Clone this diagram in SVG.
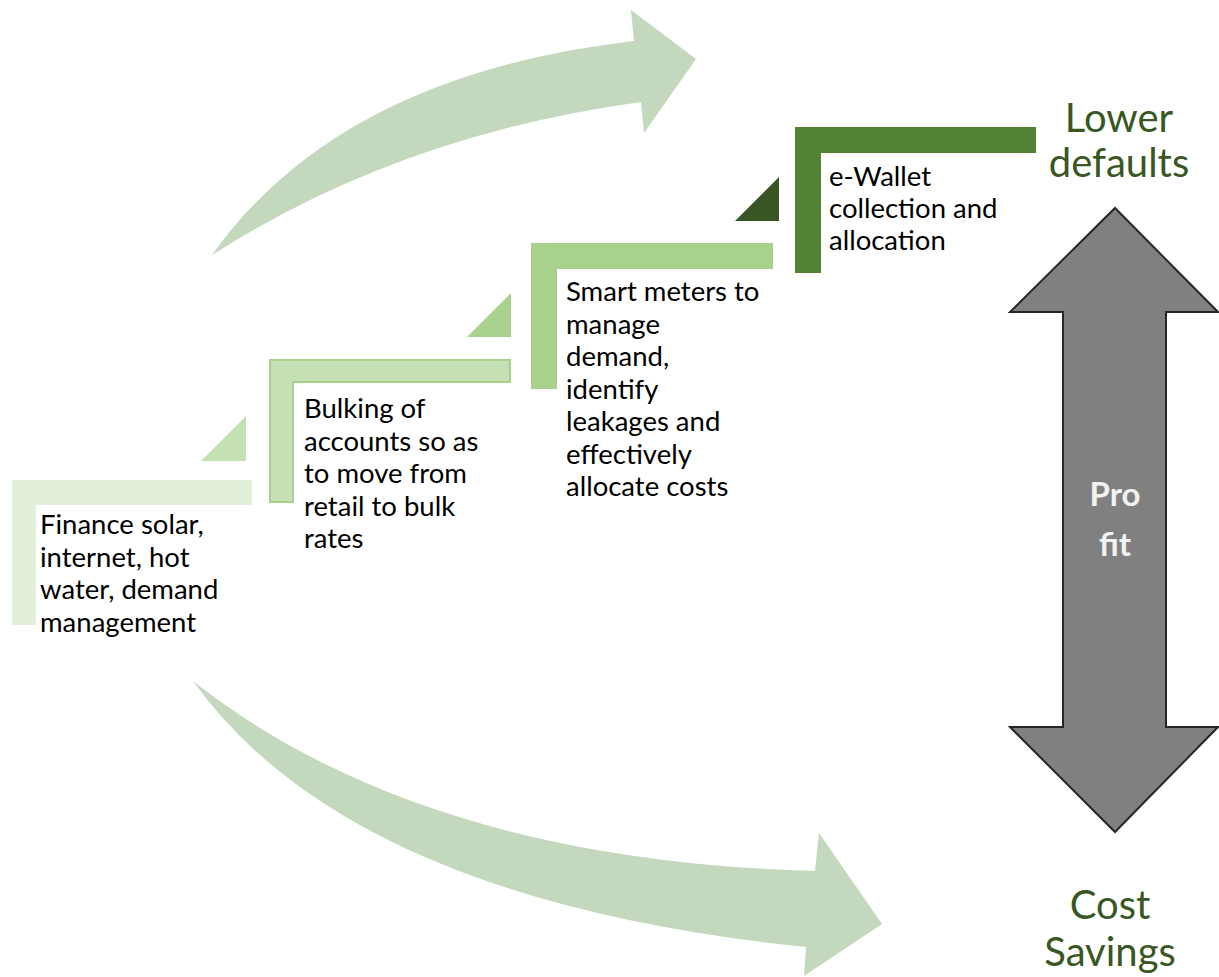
<svg xmlns="http://www.w3.org/2000/svg" width="1219" height="977" viewBox="0 0 1219 977">
<style>
.body{font-family:Lato,"Liberation Sans",sans-serif;font-size:27.5px;fill:#000}
.lab{font-family:Lato,"Liberation Sans",sans-serif;font-size:40px;fill:#385723;text-anchor:middle}
.pf{font-family:Lato,"Liberation Sans",sans-serif;font-size:33px;font-weight:bold;fill:#F2F2F2;text-anchor:middle}
.curve{fill:#C3D8BC}
</style>
<rect width="1219" height="977" fill="#fff"/>
<g id="connectors">
<path class="curve" d="M212,255 Q340,75 634,41 L631,10 L696,59 L644,133 L641,102 Q400,135 212,255 Z"/>
<path class="curve" d="M193,681 Q420,860 815,871 L819,833 L882,924 L804,976 L806,947 Q350,900 193,681 Z"/>
</g>
<g id="step1">
<path d="M12,480 H252 V505 H36 V625 H12 Z" fill="#E2EFDA"/>
<text class="body"><tspan x="40" y="534">Finance solar,</tspan><tspan x="40" y="566.5">internet, hot</tspan><tspan x="40" y="599">water, demand</tspan><tspan x="40" y="631.5">management</tspan></text>
</g>
<g id="tri1"><path d="M201,461 L246,416 V461 Z" fill="#C5E0B4"/></g>
<g id="step2">
<path d="M270,360 H510 V382 H293 V502 H270 Z" fill="#C5E0B4" stroke="#A9D18E" stroke-width="2"/>
<text class="body"><tspan x="304" y="418">Bulking of</tspan><tspan x="304" y="450.5">accounts so as</tspan><tspan x="304" y="483">to move from</tspan><tspan x="304" y="515.5">retail to bulk</tspan><tspan x="304" y="548">rates</tspan></text>
</g>
<g id="tri2"><path d="M467,337 L511,293 V337 Z" fill="#A9D18E"/></g>
<g id="step3">
<path d="M531,243 H773 V269 H557 V389 H531 Z" fill="#A9D18E"/>
<text class="body"><tspan x="566" y="301">Smart meters to</tspan><tspan x="566" y="333.5">manage</tspan><tspan x="566" y="366">demand,</tspan><tspan x="566" y="398.5">identify</tspan><tspan x="566" y="431">leakages and</tspan><tspan x="566" y="463.5">effectively</tspan><tspan x="566" y="496">allocate costs</tspan></text>
</g>
<g id="tri3"><path d="M735,221 L779,177 V221 Z" fill="#375623"/></g>
<g id="step4">
<path d="M795,127 H1036 V153 H821 V273 H795 Z" fill="#548235"/>
<text class="body"><tspan x="829" y="186">e-Wallet</tspan><tspan x="829" y="218">collection and</tspan><tspan x="829" y="250">allocation</tspan></text>
</g>
<g id="lower-defaults">
<text class="lab"><tspan x="1119" y="132">Lower</tspan><tspan x="1119" y="177">defaults</tspan></text>
</g>
<g id="profit-arrow">
<path d="M1115,208 L1218,312 H1166 V727 H1218 L1115,832 L1010,727 H1063 V312 H1010 Z" fill="#808080" stroke="#262626" stroke-width="2" stroke-linejoin="miter"/>
<text class="pf"><tspan x="1115" y="506">Pro</tspan><tspan x="1115" y="556">fit</tspan></text>
</g>
<g id="cost-savings">
<text class="lab"><tspan x="1110" y="919">Cost</tspan><tspan x="1110" y="966">Savings</tspan></text>
</g>
</svg>
